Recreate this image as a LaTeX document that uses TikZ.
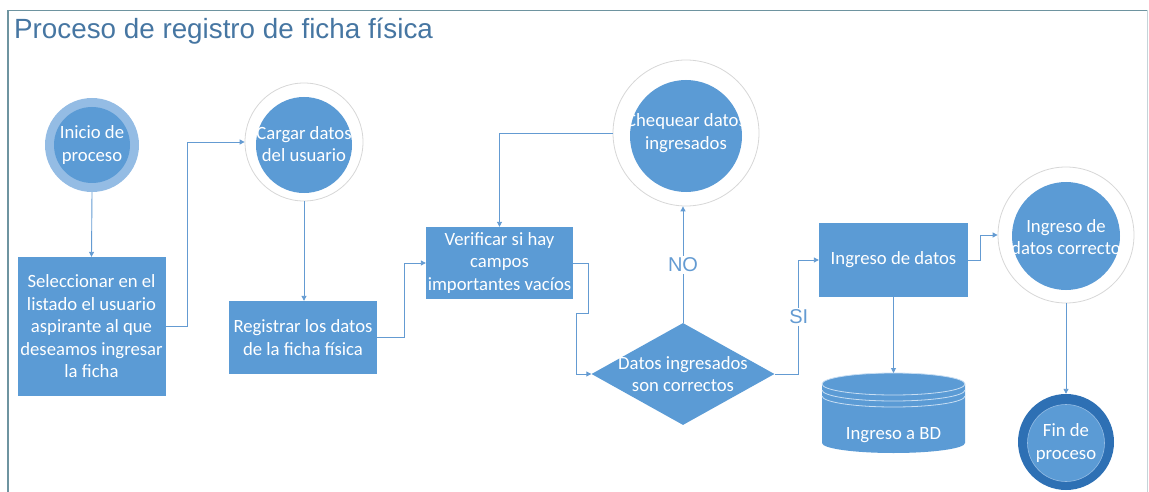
\documentclass[tikz,border=0pt]{standalone}
\usepackage{fontspec}
\setmainfont{Carlito}
\newfontfamily\arialf{Liberation Sans}
\usetikzlibrary{shapes.geometric,arrows.meta}
\definecolor{myblue}{RGB}{91,155,213}
\definecolor{lightring}{RGB}{148,188,228}
\definecolor{darkring}{RGB}{46,112,180}
\definecolor{linecol}{RGB}{100,155,210}
\definecolor{framecol}{RGB}{110,148,160}
\definecolor{titlecol}{RGB}{70,118,162}
\definecolor{ringgray}{RGB}{215,215,215}
\definecolor{cylline}{RGB}{200,222,243}
\tikzset{
  x=1pt, y=-1pt,
  boxtxt/.style={font=\fontsize{18.7}{22.5}\selectfont, text=white, align=center},
  procbox/.style={rectangle, fill=myblue, inner sep=0pt, boxtxt},
  ringout/.style={circle, fill=white, draw=ringgray, line width=0.8pt, inner sep=0pt},
  disc/.style={circle, fill=myblue, inner sep=0pt},
  lbl/.style={boxtxt, inner sep=0pt},
  arr/.style={draw=linecol, line width=0.9pt, -{Triangle[length=5pt,width=5pt]}},
  edgelbl/.style={font=\arialf\fontsize{20}{22}\selectfont, text=linecol, fill=white, inner sep=2pt}
}
\begin{document}
\begin{tikzpicture}
\useasboundingbox (0,0) rectangle (1149,492);
% frame
\draw[framecol, line width=1.2pt] (8,492) -- (8,10.5) -- (1147.5,10.5);
\draw[framecol!40, line width=0.6pt] (1147.5,10.5) -- (1147.5,492);
\node[anchor=west, font=\arialf\fontsize{27.8}{32}\selectfont, text=titlecol, inner sep=0pt] (title) at (14,31.5) {Proceso de registro de ficha física};

% Inicio
\node[circle, fill=lightring, minimum size=94pt, inner sep=0pt] (iniO) at (92,145) {};
\node[disc, minimum size=76pt] (iniI) at (92,145) {};
\node[lbl] (iniT) at (92,145) {Inicio de\\proceso};

% Seleccionar
\node[procbox, minimum width=148pt, minimum height=139pt] (sel) at (91.5,326.5) {Seleccionar en el\\listado el usuario\\aspirante al que\\deseamos ingresar\\la ficha};

% Cargar
\node[ringout, minimum size=118pt] (carO) at (304,142) {};
\node[disc, minimum size=96pt] (carI) at (304,145) {};
\node[lbl] (carT) at (304,144) {Cargar datos\\del usuario};

% Registrar
\node[procbox, minimum width=148pt, minimum height=73pt] (reg) at (303,337.5) {Registrar los datos\\de la ficha física};

% Verificar
\node[procbox, minimum width=147pt, minimum height=72pt] (ver) at (499.5,263) {Verificar si hay\\campos\\importantes vacíos};

% Chequear
\node[ringout, minimum size=146pt] (chqO) at (686,133) {};
\node[disc, minimum size=112pt] (chqI) at (686,136) {};
\node[lbl] (chqT) at (686,133) {Chequear datos\\ingresados};

% Decision
\node[diamond, fill=myblue, minimum width=183pt, minimum height=102pt, inner sep=0pt] (dec) at (683,374) {};
\node[lbl] (decT) at (683,374) {Datos ingresados\\son correctos};

% Ingreso de datos
\node[procbox, minimum width=149pt, minimum height=74pt] (ing) at (893.5,260) {Ingreso de datos};

% Ingreso de datos correcto
\node[ringout, minimum size=136pt] (corO) at (1066,235) {};
\node[disc, minimum size=108pt] (corI) at (1066,236) {};
\node[lbl] (corT) at (1066,237) {Ingreso de\\datos correcto};

% Fin
\node[circle, fill=darkring, minimum size=96pt, inner sep=0pt] (finO) at (1066,442) {};
\node[circle, fill=myblue, draw=lightring, line width=0.6pt, minimum size=77pt, inner sep=0pt] (finI) at (1066,443) {};
\node[lbl] (finT) at (1066,443) {Fin de\\proceso};

% Database cylinder
\fill[myblue] (822,384) -- (822,443) arc[start angle=180, end angle=360, x radius=71.5pt, y radius=10pt] -- (965,384) arc[start angle=0, end angle=180, x radius=71.5pt, y radius=11pt] -- cycle;
\draw[cylline, line width=0.8pt] (893.5,384) ellipse [x radius=71.5pt, y radius=11pt];
\draw[cylline, line width=0.8pt] (822,390) arc[start angle=180, end angle=360, x radius=71.5pt, y radius=11pt];
\draw[cylline, line width=0.8pt] (822,396) arc[start angle=180, end angle=360, x radius=71.5pt, y radius=11pt];
\coordinate (bdtop) at (893.5,373);
\node[lbl] (bdT) at (893.5,435) {Ingreso a BD};

% Connectors
\draw[arr] (iniO.south) -- (sel.north);
\draw[arr] (sel.east) -- ++(22,0) |- (carO.west);
\draw[arr] (carO.south) -- (carO.south |- reg.north);
\draw[arr] (reg.east) -- ++(27,0) |- (ver.west);
\draw[arr] (ver.east) -- ++(15,0) -- ++(0,50) -- ++(-12,0) |- (dec.west);
\draw[arr] (dec.north) -- (dec.north |- chqO.south) node[pos=0.5, edgelbl] {NO};
\draw[arr] (chqO.west) -| (ver.north);
\draw[arr] (dec.east) -- ++(24,0) |- (ing.west) node[pos=0.25, edgelbl] {SI};
\draw[arr] (ing.east) -- ++(12,0) |- (corO.west);
\draw[arr] (ing.south) -- (bdtop);
\draw[arr] (corO.south) -- (finO.north);
\end{tikzpicture}
\end{document}
